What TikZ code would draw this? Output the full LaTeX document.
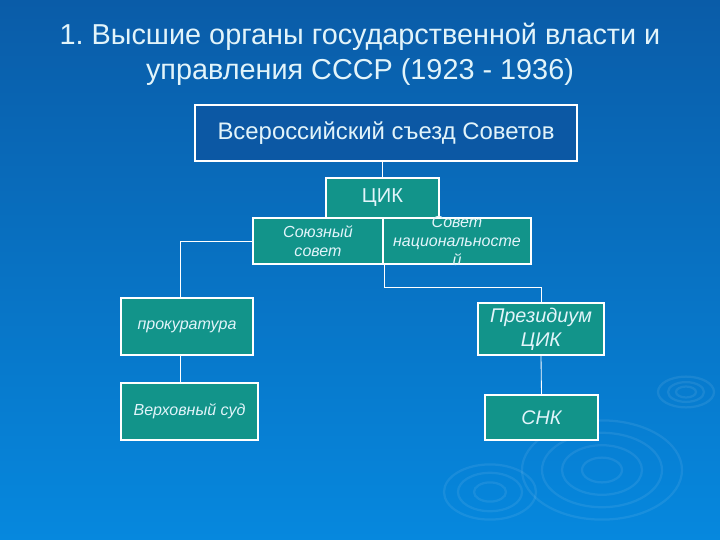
\documentclass[tikz,border=0pt]{standalone}
\usepackage{fontspec}
\setmainfont{Liberation Sans}
\usepackage{tikz}
\usetikzlibrary{
    positioning,
    calc,
    backgrounds
}
\definecolor{bgTop}{RGB}{10,92,168}
\definecolor{bgBot}{RGB}{6,136,222}
\definecolor{orgTeal}{RGB}{18,148,138}
\definecolor{orgDark}{RGB}{12,88,164}
\definecolor{txtLight}{RGB}{226,244,250}
\tikzset{
  organ/.style  = {draw=white, line width=1.4pt, fill=orgTeal, inner sep=0pt,
                   align=center, text=txtLight, font=\itshape\fontsize{11.4}{13.5}\selectfont},
  bigorgan/.style = {organ, font=\fontsize{14.3}{17}\selectfont},
  link/.style   = {white, line width=0.6pt}
}
\frenchspacing

\begin{document}
\begin{tikzpicture}

%% --- background ---
\shade[top color=bgTop, bottom color=bgBot] (0,0) rectangle (18,-13.5);
\useasboundingbox (0,0) rectangle (18,-13.5);
\begin{scope}[white, opacity=0.08, line width=1.6pt]
  \foreach \r in {0.5,1.0,1.5,2.0} \draw (15.05,-11.75) ellipse ({\r} and {0.62*\r});
  \foreach \r in {0.4,0.8,1.15} \draw (12.25,-12.3) ellipse ({\r} and {0.6*\r});
  \foreach \r in {0.25,0.45,0.7} \draw (17.15,-9.8) ellipse ({\r} and {0.55*\r});
\end{scope}

%% --- title ---
\node[text=txtLight, align=center, font=\fontsize{20.5}{25}\selectfont] (title)
  at (9,-1.36) {1. Высшие органы государственной власти и\\управления СССР (1923 - 1936)};

%% --- top ---
\node[bigorgan, fill=orgDark, minimum width=9.55cm, minimum height=1.4cm,
      font=\fontsize{17}{20}\selectfont] (sezd) at (9.65,-3.325)
  {Всероссийский съезд Советов};

\node[bigorgan, minimum width=2.825cm, minimum height=1.0cm] (cik) at (9.5625,-4.95) {ЦИК};

\node[organ, minimum width=3.25cm, minimum height=1.15cm] (soyuz) at (7.95,-6.025)
  {Союзный\\совет};

\node[organ, minimum width=3.7cm, minimum height=1.15cm,
      label={[align=center, text=txtLight, font=\itshape\fontsize{11.4}{13.5}\selectfont]center:Совет\\национальносте\\й}]
  (natz) at (11.425,-6.025) {};

%% --- left column ---
\node[organ, minimum width=3.3cm, minimum height=1.425cm] (prok) at (4.675,-8.1625)
  {прокуратура};
\node[organ, minimum width=3.425cm, minimum height=1.425cm] (verkh) at (4.7375,-10.2875)
  {Верховный суд};

%% --- right column ---
\node[bigorgan, font=\itshape\fontsize{14.1}{17}\selectfont,
      minimum width=3.15cm, minimum height=1.3cm] (prez) at (13.525,-8.225)
  {Президиум\\ЦИК};
\node[bigorgan, font=\itshape\fontsize{14}{16}\selectfont,
      minimum width=2.825cm, minimum height=1.125cm] (snk) at (13.5375,-10.4375) {СНК};

%% --- links ---
\coordinate (lft) at (4.5,-6.025);
\draw[link] (sezd.south -| cik) -- (cik.north);
\draw[link] (soyuz.west) -- (lft) -- (lft |- prok.north);
\draw[link] (lft |- prok.south) -- (lft |- verkh.north);
\draw[link] (soyuz.south east) -- ++(0,-0.55) -| (prez.north);
\draw[link] (prez.south) -- (snk.north);

\end{tikzpicture}
\end{document}
